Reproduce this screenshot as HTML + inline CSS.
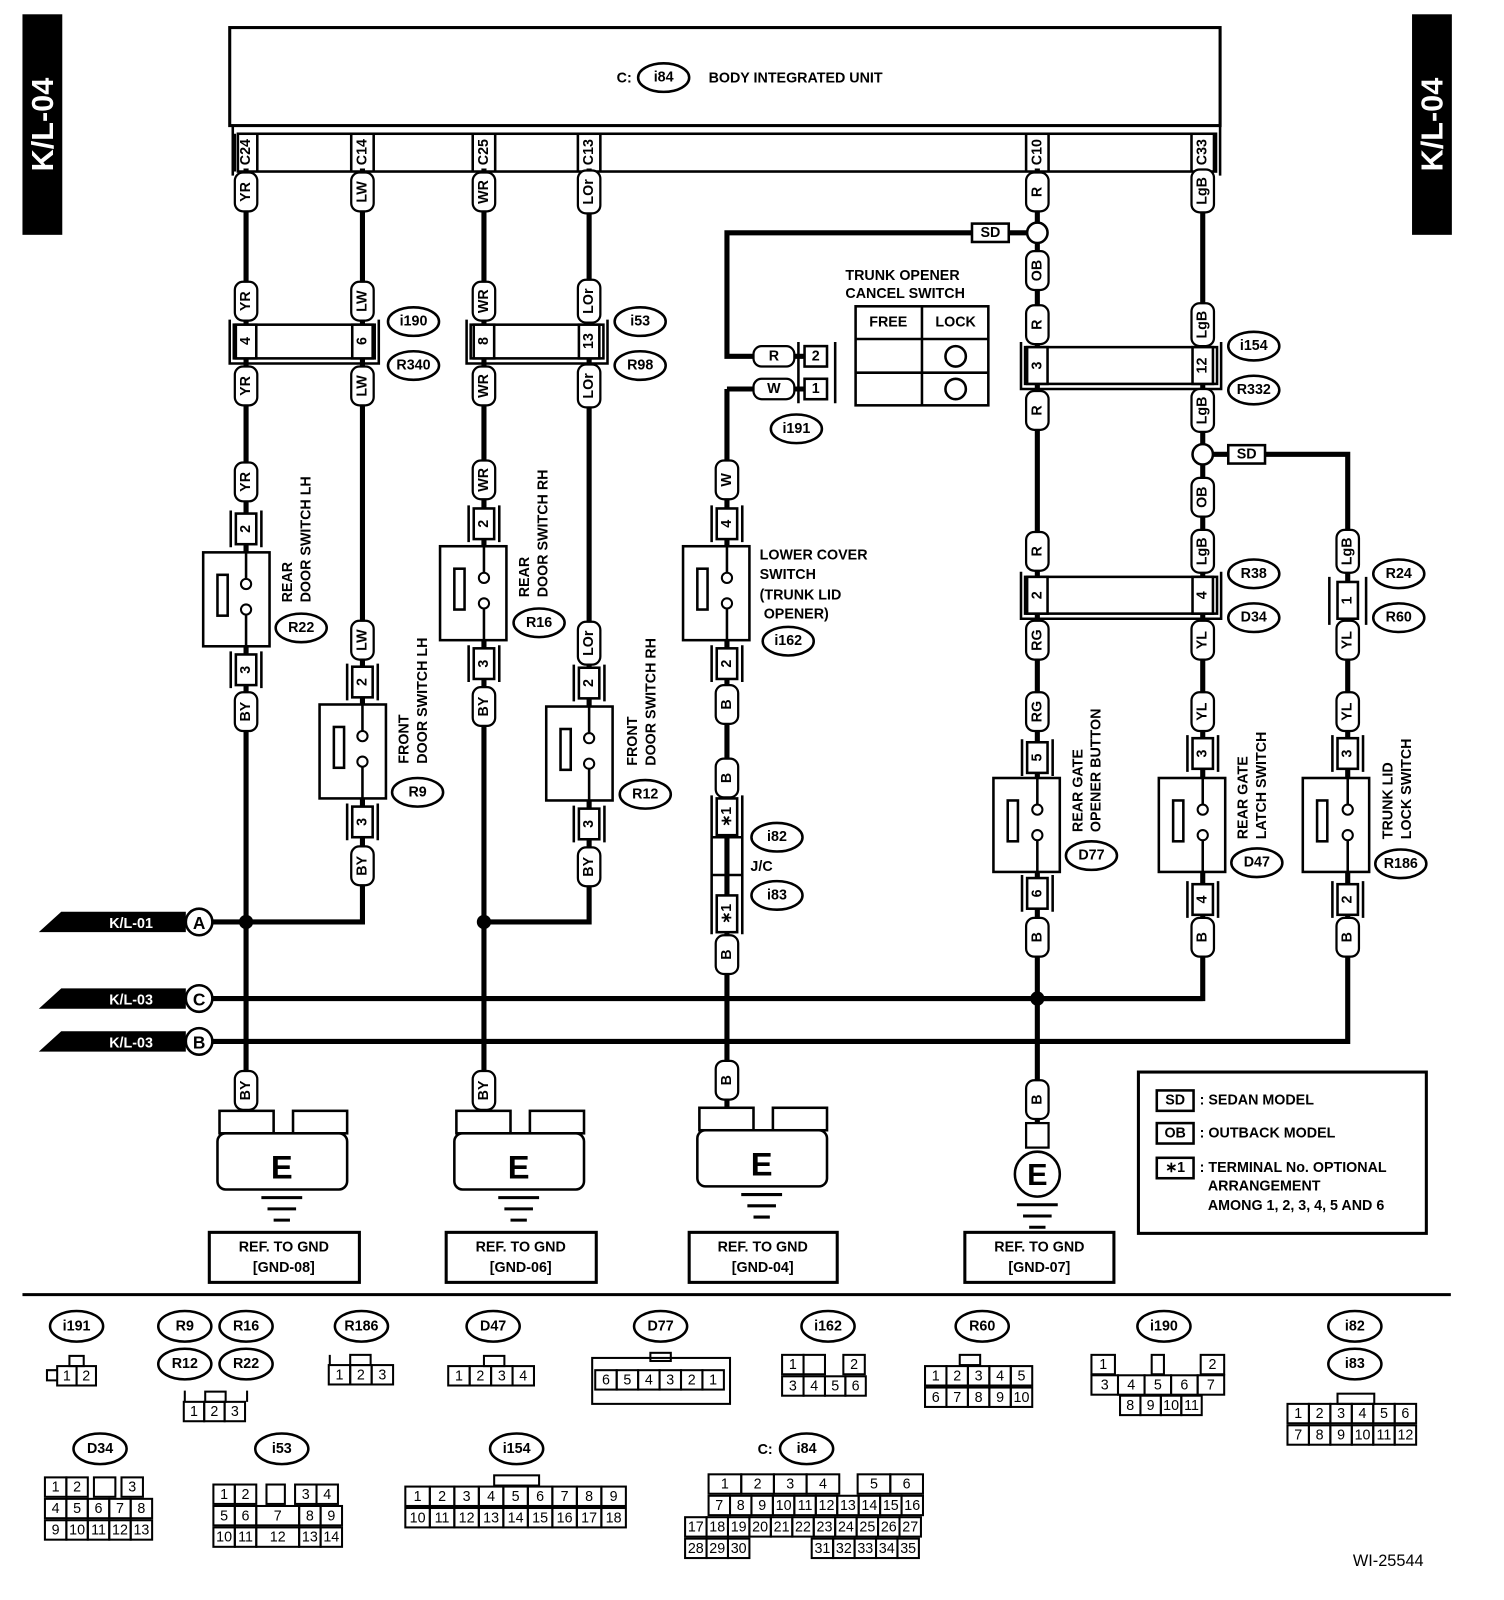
<!DOCTYPE html>
<html><head><meta charset="utf-8"><style>
body{margin:0;background:#fff}
#w{position:relative;width:1504px;height:1600px;overflow:hidden;font-family:"Liberation Sans",sans-serif}
#s{position:absolute;left:0;top:0;width:1504px;height:1600px;transform:scale(1.021);transform-origin:0 0}
svg{position:absolute;left:0;top:0}
.k{fill:none;stroke:#000;stroke-width:5}
.s{fill:#fff;stroke:#000;stroke-width:2.5}
.n{fill:none;stroke:#000;stroke-width:2.5}
text{font-family:"Liberation Sans",sans-serif;font-weight:bold;font-size:14px;fill:#000}
.c{text-anchor:middle;dominant-baseline:central}
.r{position:absolute;display:flex}
.r span{box-sizing:border-box;height:21px;border:2px solid #000;margin-left:-2px;text-align:center;font:14px/17px "Liberation Sans",sans-serif}
.r span.g{border-color:transparent}
</style></head><body><div id="w"><div id="s">
<svg width="1504" height="1600" viewBox="0 0 1504 1600">
<rect x="22" y="14" width="39" height="216" fill="#000"/>
<text class="c" transform="translate(42,122) rotate(-90)" style="fill:#fff;font-size:30px">K/L-04</text>
<rect x="1383" y="14" width="39" height="216" fill="#000"/>
<text class="c" transform="translate(1403,122) rotate(-90)" style="fill:#fff;font-size:30px">K/L-04</text>
<rect x="225" y="27" width="970" height="96" class="n" style="stroke-width:3"/>
<text x="604" y="81">C:</text><ellipse cx="650" cy="76" rx="25" ry="14" class="n"/><text class="c" x="650" y="76">i84</text>
<text x="694" y="81">BODY INTEGRATED UNIT</text>
<line x1="228" y1="123" x2="228" y2="172" class="n"/>
<rect x="233" y="131" width="958" height="37" class="s"/>

<g class="k">
<path d="M241 165V1088"/><path d="M355 165V903H241"/><path d="M474 165V1088"/><path d="M577 165V903H474"/>
<path d="M1016 228H712V349H790M712 381H790M712 381V1085"/>
<path d="M1016 165V1104"/><path d="M1178 165V978H1016"/>
<path d="M1178 445H1320V1020H190"/>
<path d="M190 978H1178"/><path d="M190 903H241"/>
</g>
<circle cx="241" cy="903" r="7"/><circle cx="474" cy="903" r="7"/><circle cx="1016" cy="978" r="7"/>
<circle cx="1016" cy="228" r="10" class="s"/><circle cx="1178" cy="445" r="10" class="s"/>

<g class="n"><line x1="252" y1="131" x2="252" y2="168"/><line x1="230" y1="131" x2="230" y2="168"/>
<line x1="344" y1="131" x2="344" y2="168"/><line x1="366" y1="131" x2="366" y2="168"/>
<line x1="463" y1="131" x2="463" y2="168"/><line x1="485" y1="131" x2="485" y2="168"/>
<line x1="566" y1="131" x2="566" y2="168"/><line x1="588" y1="131" x2="588" y2="168"/>
<line x1="1005" y1="131" x2="1005" y2="168"/><line x1="1027" y1="131" x2="1027" y2="168"/>
<line x1="1167" y1="131" x2="1167" y2="168"/><line x1="1189" y1="131" x2="1189" y2="168"/>
<line x1="1195" y1="123" x2="1195" y2="172"/></g>
<text class="c" transform="translate(241,149) rotate(-90)">C24</text>
<text class="c" transform="translate(355,149) rotate(-90)">C14</text>
<text class="c" transform="translate(474,149) rotate(-90)">C25</text>
<text class="c" transform="translate(577,149) rotate(-90)">C13</text>
<text class="c" transform="translate(1016,149) rotate(-90)">C10</text>
<text class="c" transform="translate(1178,149) rotate(-90)">C33</text>

<g class="n">
<rect x="229" y="318" width="138" height="33" fill="#fff"/><path d="M225 313V356H371V313"/>
<rect x="461" y="318" width="130" height="33" fill="#fff"/><path d="M457 313V356H595V313"/>
<rect x="1004" y="340" width="188" height="36" fill="#fff"/><path d="M1000 335V381H1196V335"/>
<rect x="1004" y="565" width="188" height="36" fill="#fff"/><path d="M1000 560V606H1196V560"/>
<path d="M1302 565V612M1338 565V612"/>
</g>

<g class="s">
<rect x="199" y="541" width="65" height="92"/><rect x="313" y="690" width="65" height="92"/>
<rect x="431" y="535" width="65" height="92"/><rect x="535" y="692" width="65" height="92"/>
<rect x="669" y="535" width="65" height="92"/>
<rect x="973" y="762" width="65" height="92"/><rect x="1135" y="762" width="65" height="92"/><rect x="1276" y="762" width="65" height="92"/>
</g>
<g class="n">
<path d="M241 541V572M241 596V633"/><rect x="213" y="563" width="10" height="40"/>
<path d="M355 690V721M355 745V782"/><rect x="327" y="712" width="10" height="40"/>
<path d="M474 535V566M474 590V627"/><rect x="445" y="557" width="10" height="40"/>
<path d="M577 692V723M577 747V784"/><rect x="549" y="714" width="10" height="40"/>
<path d="M712 535V566M712 590V627"/><rect x="683" y="557" width="10" height="40"/>
<path d="M1016 762V793M1016 817V854"/><rect x="987" y="784" width="10" height="40"/>
<path d="M1178 762V793M1178 817V854"/><rect x="1149" y="784" width="10" height="40"/>
<path d="M1320 762V793M1320 817V854"/><rect x="1290" y="784" width="10" height="40"/>
</g>
<g class="s" style="stroke-width:2">
<circle cx="241" cy="572" r="5"/><circle cx="241" cy="597" r="5"/>
<circle cx="355" cy="721" r="5"/><circle cx="355" cy="746" r="5"/>
<circle cx="474" cy="566" r="5"/><circle cx="474" cy="591" r="5"/>
<circle cx="577" cy="723" r="5"/><circle cx="577" cy="748" r="5"/>
<circle cx="712" cy="566" r="5"/><circle cx="712" cy="591" r="5"/>
<circle cx="1016" cy="793" r="5"/><circle cx="1016" cy="818" r="5"/>
<circle cx="1178" cy="793" r="5"/><circle cx="1178" cy="818" r="5"/>
<circle cx="1320" cy="793" r="5"/><circle cx="1320" cy="818" r="5"/>
</g>

<g class="s">
<rect x="231" y="318" width="20" height="33"/><rect x="345" y="318" width="20" height="33"/>
<rect x="464" y="318" width="20" height="33"/><rect x="567" y="318" width="20" height="33"/>
<rect x="1006" y="340" width="20" height="36"/><rect x="1168" y="340" width="20" height="36"/>
<rect x="1006" y="565" width="20" height="36"/><rect x="1168" y="565" width="20" height="36"/><rect x="1310" y="570" width="20" height="36"/>
<rect x="231" y="503" width="20" height="30"/><rect x="231" y="641" width="20" height="30"/>
<rect x="345" y="653" width="20" height="30"/><rect x="345" y="790" width="20" height="30"/>
<rect x="464" y="498" width="20" height="30"/><rect x="464" y="635" width="20" height="30"/>
<rect x="567" y="654" width="20" height="30"/><rect x="567" y="792" width="20" height="30"/>
<rect x="702" y="498" width="20" height="30"/><rect x="702" y="635" width="20" height="30"/>
<rect x="702" y="782" width="20" height="36"/><rect x="702" y="877" width="20" height="36"/>
<rect x="1006" y="727" width="20" height="30"/><rect x="1006" y="860" width="20" height="30"/>
<rect x="1168" y="723" width="20" height="30"/><rect x="1168" y="866" width="20" height="30"/>
<rect x="1310" y="723" width="20" height="30"/><rect x="1310" y="866" width="20" height="30"/>
<rect x="788" y="339" width="22" height="20"/><rect x="788" y="371" width="22" height="20"/>
</g>
<g class="n">
<path d="M226 500V536M256 500V536M226 638V674M256 638V674"/>
<path d="M340 650V686M370 650V686M340 787V823M370 787V823"/>
<path d="M459 495V531M489 495V531M459 632V668M489 632V668"/>
<path d="M562 651V687M592 651V687M562 789V825M592 789V825"/>
<path d="M697 495V531M727 495V531M697 632V668M727 632V668"/>
<path d="M697 779V915M727 779V915M697 820H727M697 857H727M712 820V857"/>
<path d="M1001 724V760M1031 724V760M1001 857V893M1031 857V893"/>
<path d="M1163 720V756M1193 720V756M1163 863V899M1193 863V899"/>
<path d="M1305 720V756M1335 720V756M1305 863V899M1335 863V899"/>
<path d="M782 335V395M818 335V395"/>
</g>
<text class="c" transform="translate(241,334) rotate(-90)">4</text>
<text class="c" transform="translate(355,334) rotate(-90)">6</text>
<text class="c" transform="translate(474,334) rotate(-90)">8</text>
<text class="c" transform="translate(577,334) rotate(-90)">13</text>
<text class="c" transform="translate(1016,358) rotate(-90)">3</text>
<text class="c" transform="translate(1178,358) rotate(-90)">12</text>
<text class="c" transform="translate(1016,583) rotate(-90)">2</text>
<text class="c" transform="translate(1178,583) rotate(-90)">4</text>
<text class="c" transform="translate(1320,588) rotate(-90)">1</text>
<text class="c" transform="translate(241,518) rotate(-90)">2</text><text class="c" transform="translate(241,656) rotate(-90)">3</text>
<text class="c" transform="translate(355,668) rotate(-90)">2</text><text class="c" transform="translate(355,805) rotate(-90)">3</text>
<text class="c" transform="translate(474,513) rotate(-90)">2</text><text class="c" transform="translate(474,650) rotate(-90)">3</text>
<text class="c" transform="translate(577,669) rotate(-90)">2</text><text class="c" transform="translate(577,807) rotate(-90)">3</text>
<text class="c" transform="translate(712,513) rotate(-90)">4</text><text class="c" transform="translate(712,650) rotate(-90)">2</text>
<text class="c" transform="translate(712,800) rotate(-90)">∗1</text><text class="c" transform="translate(712,895) rotate(-90)">∗1</text>
<text class="c" transform="translate(1016,742) rotate(-90)">5</text><text class="c" transform="translate(1016,875) rotate(-90)">6</text>
<text class="c" transform="translate(1178,738) rotate(-90)">3</text><text class="c" transform="translate(1178,881) rotate(-90)">4</text>
<text class="c" transform="translate(1320,738) rotate(-90)">3</text><text class="c" transform="translate(1320,881) rotate(-90)">2</text>
<text class="c" x="799" y="349">2</text><text class="c" x="799" y="381">1</text>

<g class="s" style="stroke-width:2.2">
<rect x="230" y="169" width="22" height="38" rx="8"/><rect x="230" y="276" width="22" height="38" rx="8"/><rect x="230" y="359" width="22" height="38" rx="8"/><rect x="230" y="453" width="22" height="38" rx="8"/><rect x="230" y="678" width="22" height="38" rx="8"/><rect x="230" y="1049" width="22" height="38" rx="8"/>
<rect x="344" y="169" width="22" height="38" rx="8"/><rect x="344" y="276" width="22" height="38" rx="8"/><rect x="344" y="359" width="22" height="38" rx="8"/><rect x="344" y="608" width="22" height="38" rx="8"/><rect x="344" y="829" width="22" height="38" rx="8"/>
<rect x="463" y="169" width="22" height="38" rx="8"/><rect x="463" y="276" width="22" height="38" rx="8"/><rect x="463" y="359" width="22" height="38" rx="8"/><rect x="463" y="451" width="22" height="38" rx="8"/><rect x="463" y="673" width="22" height="38" rx="8"/><rect x="463" y="1049" width="22" height="38" rx="8"/>
<rect x="566" y="167" width="22" height="42" rx="8"/><rect x="566" y="274" width="22" height="42" rx="8"/><rect x="566" y="357" width="22" height="42" rx="8"/><rect x="566" y="609" width="22" height="42" rx="8"/><rect x="566" y="830" width="22" height="38" rx="8"/>
<rect x="701" y="451" width="22" height="38" rx="8"/><rect x="701" y="671" width="22" height="38" rx="8"/><rect x="701" y="743" width="22" height="38" rx="8"/><rect x="701" y="916" width="22" height="38" rx="8"/><rect x="701" y="1039" width="22" height="38" rx="8"/>
<rect x="738" y="339" width="40" height="20" rx="8"/><rect x="738" y="371" width="40" height="20" rx="8"/>
<rect x="1005" y="169" width="22" height="38" rx="8"/><rect x="1005" y="246" width="22" height="38" rx="8"/><rect x="1005" y="299" width="22" height="38" rx="8"/><rect x="1005" y="383" width="22" height="38" rx="8"/><rect x="1005" y="521" width="22" height="38" rx="8"/><rect x="1005" y="608" width="22" height="38" rx="8"/><rect x="1005" y="678" width="22" height="38" rx="8"/><rect x="1005" y="899" width="22" height="38" rx="8"/><rect x="1005" y="1058" width="22" height="38" rx="8"/>
<rect x="1167" y="166" width="22" height="42" rx="8"/><rect x="1167" y="297" width="22" height="42" rx="8"/><rect x="1167" y="381" width="22" height="42" rx="8"/><rect x="1167" y="468" width="22" height="38" rx="8"/><rect x="1167" y="519" width="22" height="42" rx="8"/><rect x="1167" y="608" width="22" height="38" rx="8"/><rect x="1167" y="678" width="22" height="38" rx="8"/><rect x="1167" y="899" width="22" height="38" rx="8"/>
<rect x="1309" y="519" width="22" height="42" rx="8"/><rect x="1309" y="608" width="22" height="38" rx="8"/><rect x="1309" y="678" width="22" height="38" rx="8"/><rect x="1309" y="899" width="22" height="38" rx="8"/>
<rect x="1005" y="1100" width="22" height="24"/>
</g>
<g>
<text class="c" transform="translate(241,188) rotate(-90)">YR</text><text class="c" transform="translate(241,295) rotate(-90)">YR</text><text class="c" transform="translate(241,378) rotate(-90)">YR</text><text class="c" transform="translate(241,472) rotate(-90)">YR</text><text class="c" transform="translate(241,697) rotate(-90)">BY</text><text class="c" transform="translate(241,1068) rotate(-90)">BY</text>
<text class="c" transform="translate(355,188) rotate(-90)">LW</text><text class="c" transform="translate(355,295) rotate(-90)">LW</text><text class="c" transform="translate(355,378) rotate(-90)">LW</text><text class="c" transform="translate(355,627) rotate(-90)">LW</text><text class="c" transform="translate(355,848) rotate(-90)">BY</text>
<text class="c" transform="translate(474,188) rotate(-90)">WR</text><text class="c" transform="translate(474,295) rotate(-90)">WR</text><text class="c" transform="translate(474,378) rotate(-90)">WR</text><text class="c" transform="translate(474,470) rotate(-90)">WR</text><text class="c" transform="translate(474,692) rotate(-90)">BY</text><text class="c" transform="translate(474,1068) rotate(-90)">BY</text>
<text class="c" transform="translate(577,188) rotate(-90)">LOr</text><text class="c" transform="translate(577,295) rotate(-90)">LOr</text><text class="c" transform="translate(577,378) rotate(-90)">LOr</text><text class="c" transform="translate(577,630) rotate(-90)">LOr</text><text class="c" transform="translate(577,849) rotate(-90)">BY</text>
<text class="c" transform="translate(712,470) rotate(-90)">W</text><text class="c" transform="translate(712,690) rotate(-90)">B</text><text class="c" transform="translate(712,762) rotate(-90)">B</text><text class="c" transform="translate(712,935) rotate(-90)">B</text><text class="c" transform="translate(712,1058) rotate(-90)">B</text>
<text class="c" x="758" y="349">R</text><text class="c" x="758" y="381">W</text>
<text class="c" transform="translate(1016,188) rotate(-90)">R</text><text class="c" transform="translate(1016,265) rotate(-90)">OB</text><text class="c" transform="translate(1016,318) rotate(-90)">R</text><text class="c" transform="translate(1016,402) rotate(-90)">R</text><text class="c" transform="translate(1016,540) rotate(-90)">R</text><text class="c" transform="translate(1016,627) rotate(-90)">RG</text><text class="c" transform="translate(1016,697) rotate(-90)">RG</text><text class="c" transform="translate(1016,918) rotate(-90)">B</text><text class="c" transform="translate(1016,1077) rotate(-90)">B</text>
<text class="c" transform="translate(1178,187) rotate(-90)">LgB</text><text class="c" transform="translate(1178,318) rotate(-90)">LgB</text><text class="c" transform="translate(1178,402) rotate(-90)">LgB</text><text class="c" transform="translate(1178,487) rotate(-90)">OB</text><text class="c" transform="translate(1178,540) rotate(-90)">LgB</text><text class="c" transform="translate(1178,627) rotate(-90)">YL</text><text class="c" transform="translate(1178,697) rotate(-90)">YL</text><text class="c" transform="translate(1178,918) rotate(-90)">B</text>
<text class="c" transform="translate(1320,540) rotate(-90)">LgB</text><text class="c" transform="translate(1320,627) rotate(-90)">YL</text><text class="c" transform="translate(1320,697) rotate(-90)">YL</text><text class="c" transform="translate(1320,918) rotate(-90)">B</text>
</g>
<rect x="952" y="219" width="36" height="18" class="s"/><text class="c" x="970" y="228">SD</text>
<rect x="1203" y="436" width="36" height="18" class="s"/><text class="c" x="1221" y="445">SD</text>

<text x="828" y="274">TRUNK OPENER</text><text x="828" y="292">CANCEL SWITCH</text>
<rect x="838" y="300" width="130" height="97" class="n"/>
<path d="M903 300V397M838 332H968M838 365H968" class="n"/>
<text class="c" x="870" y="316">FREE</text><text class="c" x="936" y="316">LOCK</text>
<circle cx="936" cy="349" r="10" class="s"/><circle cx="936" cy="381" r="10" class="s"/>

<g class="n">
<ellipse cx="405" cy="315" rx="25" ry="14"/><ellipse cx="405" cy="358" rx="25" ry="14"/>
<ellipse cx="627" cy="315" rx="25" ry="14"/><ellipse cx="627" cy="358" rx="25" ry="14"/>
<ellipse cx="780" cy="420" rx="25" ry="14"/>
<ellipse cx="1228" cy="339" rx="25" ry="14"/><ellipse cx="1228" cy="382" rx="25" ry="14"/>
<ellipse cx="1228" cy="562" rx="25" ry="14"/><ellipse cx="1228" cy="605" rx="25" ry="14"/>
<ellipse cx="1370" cy="562" rx="25" ry="14"/><ellipse cx="1370" cy="605" rx="25" ry="14"/>
<ellipse cx="295" cy="615" rx="25" ry="14"/><ellipse cx="409" cy="776" rx="25" ry="14"/>
<ellipse cx="528" cy="610" rx="25" ry="14"/><ellipse cx="632" cy="778" rx="25" ry="14"/>
<ellipse cx="772" cy="628" rx="25" ry="14"/>
<ellipse cx="761" cy="820" rx="25" ry="14"/><ellipse cx="761" cy="877" rx="25" ry="14"/>
<ellipse cx="1069" cy="838" rx="25" ry="14"/><ellipse cx="1231" cy="845" rx="25" ry="14"/><ellipse cx="1372" cy="846" rx="25" ry="14"/>
</g>
<text class="c" x="405" y="315">i190</text><text class="c" x="405" y="358">R340</text>
<text class="c" x="627" y="315">i53</text><text class="c" x="627" y="358">R98</text>
<text class="c" x="780" y="420">i191</text>
<text class="c" x="1228" y="339">i154</text><text class="c" x="1228" y="382">R332</text>
<text class="c" x="1228" y="562">R38</text><text class="c" x="1228" y="605">D34</text>
<text class="c" x="1370" y="562">R24</text><text class="c" x="1370" y="605">R60</text>
<text class="c" x="295" y="615">R22</text><text class="c" x="409" y="776">R9</text>
<text class="c" x="528" y="610">R16</text><text class="c" x="632" y="778">R12</text>
<text class="c" x="772" y="628">i162</text>
<text class="c" x="761" y="820">i82</text><text class="c" x="761" y="877">i83</text><text x="735" y="853">J/C</text>
<text class="c" x="1069" y="838">D77</text><text class="c" x="1231" y="845">D47</text><text class="c" x="1372" y="846">R186</text>

<text transform="translate(286,590) rotate(-90)">REAR</text><text transform="translate(304,590) rotate(-90)">DOOR SWITCH LH</text>
<text transform="translate(400,748) rotate(-90)">FRONT</text><text transform="translate(418,748) rotate(-90)">DOOR SWITCH LH</text>
<text transform="translate(518,585) rotate(-90)">REAR</text><text transform="translate(536,585) rotate(-90)">DOOR SWITCH RH</text>
<text transform="translate(624,750) rotate(-90)">FRONT</text><text transform="translate(642,750) rotate(-90)">DOOR SWITCH RH</text>
<text x="744" y="548">LOWER COVER</text><text x="744" y="567">SWITCH</text><text x="744" y="587">(TRUNK LID</text><text x="748" y="606">OPENER)</text>
<text transform="translate(1060,815) rotate(-90)">REAR GATE</text><text transform="translate(1078,815) rotate(-90)">OPENER BUTTON</text>
<text transform="translate(1222,822) rotate(-90)">REAR GATE</text><text transform="translate(1240,822) rotate(-90)">LATCH SWITCH</text>
<text transform="translate(1364,822) rotate(-90)">TRUNK LID</text><text transform="translate(1382,822) rotate(-90)">LOCK SWITCH</text>

<path d="M38 913L60 893H182V913Z"/><text x="107" y="909" style="fill:#fff">K/L-01</text>
<circle cx="195" cy="903" r="13" class="s"/><text class="c" x="195" y="904" style="font-size:17px">A</text>
<path d="M38 988L60 968H182V988Z"/><text x="107" y="984" style="fill:#fff">K/L-03</text>
<circle cx="195" cy="978" r="13" class="s"/><text class="c" x="195" y="979" style="font-size:17px">C</text>
<path d="M38 1030L60 1010H182V1030Z"/><text x="107" y="1026" style="fill:#fff">K/L-03</text>
<circle cx="195" cy="1020" r="13" class="s"/><text class="c" x="195" y="1021" style="font-size:17px">B</text>

<g class="s">
<rect x="215" y="1088" width="53" height="22"/><rect x="287" y="1088" width="53" height="22"/><rect x="213" y="1110" width="127" height="55" rx="8"/>
<rect x="447" y="1088" width="53" height="22"/><rect x="519" y="1088" width="53" height="22"/><rect x="445" y="1110" width="127" height="55" rx="8"/>
<rect x="685" y="1085" width="53" height="22"/><rect x="757" y="1085" width="53" height="22"/><rect x="683" y="1107" width="127" height="55" rx="8"/>
<circle cx="1016" cy="1150" r="22"/>
</g>
<text class="c" x="276" y="1143" style="font-size:32px">E</text><text class="c" x="508" y="1143" style="font-size:32px">E</text><text class="c" x="746" y="1140" style="font-size:32px">E</text><text class="c" x="1016" y="1151" style="font-size:30px">E</text>
<g style="stroke:#000;stroke-width:3">
<line x1="256" y1="1173" x2="296" y2="1173"/><line x1="262" y1="1184" x2="290" y2="1184"/><line x1="268" y1="1195" x2="284" y2="1195"/>
<line x1="488" y1="1173" x2="528" y2="1173"/><line x1="494" y1="1184" x2="522" y2="1184"/><line x1="500" y1="1195" x2="516" y2="1195"/>
<line x1="726" y1="1170" x2="766" y2="1170"/><line x1="732" y1="1181" x2="760" y2="1181"/><line x1="738" y1="1192" x2="754" y2="1192"/>
<line x1="996" y1="1180" x2="1036" y2="1180"/><line x1="1002" y1="1191" x2="1030" y2="1191"/><line x1="1008" y1="1202" x2="1024" y2="1202"/>
</g>
<g class="n" style="stroke-width:3">
<rect x="205" y="1207" width="147" height="49"/><rect x="437" y="1207" width="147" height="49"/>
<rect x="675" y="1207" width="145" height="49"/><rect x="945" y="1207" width="146" height="49"/>
</g>
<text class="c" x="278" y="1222">REF. TO GND</text><text class="c" x="278" y="1242">[GND-08]</text>
<text class="c" x="510" y="1222">REF. TO GND</text><text class="c" x="510" y="1242">[GND-06]</text>
<text class="c" x="747" y="1222">REF. TO GND</text><text class="c" x="747" y="1242">[GND-04]</text>
<text class="c" x="1018" y="1222">REF. TO GND</text><text class="c" x="1018" y="1242">[GND-07]</text>

<rect x="1115" y="1050" width="282" height="158" class="n" style="stroke-width:3"/>
<rect x="1133" y="1068" width="36" height="20" class="n"/><text class="c" x="1151" y="1078">SD</text><text x="1175" y="1082">: SEDAN MODEL</text>
<rect x="1133" y="1100" width="36" height="20" class="n"/><text class="c" x="1151" y="1110">OB</text><text x="1175" y="1114">: OUTBACK MODEL</text>
<rect x="1133" y="1134" width="36" height="20" class="n"/><text class="c" x="1151" y="1144">∗1</text><text x="1175" y="1148">: TERMINAL No. OPTIONAL</text>
<text x="1183" y="1166">ARRANGEMENT</text><text x="1183" y="1185">AMONG 1, 2, 3, 4, 5 AND 6</text>

<line x1="22" y1="1268" x2="1421" y2="1268" style="stroke:#000;stroke-width:3"/>

<g class="n">
<ellipse cx="75" cy="1299" rx="26" ry="15"/><ellipse cx="181" cy="1299" rx="26" ry="15"/><ellipse cx="241" cy="1299" rx="26" ry="15"/>
<ellipse cx="181" cy="1336" rx="26" ry="15"/><ellipse cx="241" cy="1336" rx="26" ry="15"/><ellipse cx="354" cy="1299" rx="26" ry="15"/>
<ellipse cx="483" cy="1299" rx="26" ry="15"/><ellipse cx="647" cy="1299" rx="26" ry="15"/><ellipse cx="811" cy="1299" rx="26" ry="15"/>
<ellipse cx="962" cy="1299" rx="26" ry="15"/><ellipse cx="1140" cy="1299" rx="26" ry="15"/><ellipse cx="1327" cy="1299" rx="26" ry="15"/>
<ellipse cx="1327" cy="1336" rx="26" ry="15"/><ellipse cx="98" cy="1419" rx="26" ry="15"/><ellipse cx="276" cy="1419" rx="26" ry="15"/>
<ellipse cx="506" cy="1419" rx="26" ry="15"/><ellipse cx="790" cy="1419" rx="26" ry="15"/>
</g>
<text class="c" x="75" y="1299">i191</text><text class="c" x="181" y="1299">R9</text><text class="c" x="241" y="1299">R16</text>
<text class="c" x="181" y="1336">R12</text><text class="c" x="241" y="1336">R22</text><text class="c" x="354" y="1299">R186</text>
<text class="c" x="483" y="1299">D47</text><text class="c" x="647" y="1299">D77</text><text class="c" x="811" y="1299">i162</text>
<text class="c" x="962" y="1299">R60</text><text class="c" x="1140" y="1299">i190</text><text class="c" x="1327" y="1299">i82</text>
<text class="c" x="1327" y="1336">i83</text><text class="c" x="98" y="1419">D34</text><text class="c" x="276" y="1419">i53</text>
<text class="c" x="506" y="1419">i154</text><text x="742" y="1424">C:</text><text class="c" x="790" y="1419">i84</text>
<g class="n" style="stroke-width:2">
<rect x="68" y="1328" width="14" height="10"/><path d="M56 1342H46V1352H56"/>
<rect x="201" y="1363" width="20" height="10"/><path d="M181 1373V1362M242 1373V1362"/>
<rect x="343" y="1327" width="20" height="10"/><path d="M323 1337V1327"/>
<rect x="474" y="1328" width="20" height="10"/>
<rect x="580" y="1330" width="135" height="45"/><rect x="637" y="1325" width="20" height="8"/>
<rect x="940" y="1327" width="20" height="10"/>
<rect x="1310" y="1365" width="36" height="10"/>
<rect x="484" y="1445" width="44" height="10"/>
</g>
<text x="1325" y="1534" style="font-weight:normal;font-size:16px">WI-25544</text>
</svg>

<div class="r" style="left:57px;top:1337px"><span style="width:21px">1</span><span style="width:21px">2</span></div>
<div class="r" style="left:181px;top:1372px"><span style="width:22px">1</span><span style="width:22px">2</span><span style="width:22px">3</span></div>
<div class="r" style="left:323px;top:1336px"><span style="width:23px">1</span><span style="width:23px">2</span><span style="width:23px">3</span></div>
<div class="r" style="left:440px;top:1337px"><span style="width:23px">1</span><span style="width:23px">2</span><span style="width:23px">3</span><span style="width:23px">4</span></div>
<div class="r" style="left:584px;top:1341px"><span style="width:23px">6</span><span style="width:23px">5</span><span style="width:23px">4</span><span style="width:23px">3</span><span style="width:23px">2</span><span style="width:23px">1</span></div>
<div class="r" style="left:767px;top:1326px"><span style="width:23px">1</span><span style="width:23px"></span><span class="g" style="width:20px"></span><span style="width:23px">2</span></div>
<div class="r" style="left:767px;top:1347px"><span style="width:23px">3</span><span style="width:23px">4</span><span style="width:22px">5</span><span style="width:22px">6</span></div>
<div class="r" style="left:907px;top:1337px"><span style="width:23px">1</span><span style="width:23px">2</span><span style="width:23px">3</span><span style="width:23px">4</span><span style="width:23px">5</span></div>
<div class="r" style="left:907px;top:1358px"><span style="width:23px">6</span><span style="width:23px">7</span><span style="width:23px">8</span><span style="width:23px">9</span><span style="width:23px">10</span></div>
<div class="r" style="left:1070px;top:1326px"><span style="width:25px">1</span><span class="g" style="width:38px"></span><span style="width:14px"></span><span class="g" style="width:38px"></span><span style="width:25px">2</span></div>
<div class="r" style="left:1070px;top:1346px"><span style="width:28px">3</span><span style="width:28px">4</span><span style="width:28px">5</span><span style="width:28px">6</span><span style="width:28px">7</span></div>
<div class="r" style="left:1098px;top:1366px"><span style="width:22px">8</span><span style="width:22px">9</span><span style="width:22px">10</span><span style="width:22px">11</span></div>
<div class="r" style="left:1262px;top:1374px"><span style="width:23px">1</span><span style="width:23px">2</span><span style="width:23px">3</span><span style="width:23px">4</span><span style="width:23px">5</span><span style="width:23px">6</span></div>
<div class="r" style="left:1262px;top:1395px"><span style="width:23px">7</span><span style="width:23px">8</span><span style="width:23px">9</span><span style="width:23px">10</span><span style="width:23px">11</span><span style="width:23px">12</span></div>
<div class="r" style="left:45px;top:1446px"><span style="width:23px">1</span><span style="width:23px">2</span><span class="g" style="width:8px"></span><span style="width:23px"></span><span class="g" style="width:8px"></span><span style="width:23px">3</span></div>
<div class="r" style="left:45px;top:1467px"><span style="width:23px">4</span><span style="width:23px">5</span><span style="width:23px">6</span><span style="width:23px">7</span><span style="width:23px">8</span></div>
<div class="r" style="left:45px;top:1488px"><span style="width:23px">9</span><span style="width:23px">10</span><span style="width:23px">11</span><span style="width:23px">12</span><span style="width:23px">13</span></div>
<div class="r" style="left:210px;top:1453px"><span style="width:23px">1</span><span style="width:23px">2</span><span class="g" style="width:12px"></span><span style="width:20px"></span><span class="g" style="width:12px"></span><span style="width:23px">3</span><span style="width:23px">4</span></div>
<div class="r" style="left:210px;top:1474px"><span style="width:23px">5</span><span style="width:23px">6</span><span style="width:44px">7</span><span style="width:23px">8</span><span style="width:23px">9</span></div>
<div class="r" style="left:210px;top:1495px"><span style="width:23px">10</span><span style="width:23px">11</span><span style="width:44px">12</span><span style="width:23px">13</span><span style="width:23px">14</span></div>
<div class="r" style="left:398px;top:1455px"><span style="width:26px">1</span><span style="width:26px">2</span><span style="width:26px">3</span><span style="width:26px">4</span><span style="width:26px">5</span><span style="width:26px">6</span><span style="width:26px">7</span><span style="width:26px">8</span><span style="width:26px">9</span></div>
<div class="r" style="left:398px;top:1476px"><span style="width:26px">10</span><span style="width:26px">11</span><span style="width:26px">12</span><span style="width:26px">13</span><span style="width:26px">14</span><span style="width:26px">15</span><span style="width:26px">16</span><span style="width:26px">17</span><span style="width:26px">18</span></div>
<div class="r" style="left:695px;top:1443px"><span style="width:34px">1</span><span style="width:34px">2</span><span style="width:34px">3</span><span style="width:34px">4</span><span class="g" style="width:20px"></span><span style="width:34px">5</span><span style="width:34px">6</span></div>
<div class="r" style="left:695px;top:1464px"><span style="width:23px">7</span><span style="width:23px">8</span><span style="width:23px">9</span><span style="width:23px">10</span><span style="width:23px">11</span><span style="width:23px">12</span><span style="width:23px">13</span><span style="width:23px">14</span><span style="width:23px">15</span><span style="width:23px">16</span></div>
<div class="r" style="left:672px;top:1485px"><span style="width:23px">17</span><span style="width:23px">18</span><span style="width:23px">19</span><span style="width:23px">20</span><span style="width:23px">21</span><span style="width:23px">22</span><span style="width:23px">23</span><span style="width:23px">24</span><span style="width:23px">25</span><span style="width:23px">26</span><span style="width:23px">27</span></div>
<div class="r" style="left:672px;top:1506px"><span style="width:23px">28</span><span style="width:23px">29</span><span style="width:23px">30</span><span class="g" style="width:63px"></span><span style="width:23px">31</span><span style="width:23px">32</span><span style="width:23px">33</span><span style="width:23px">34</span><span style="width:23px">35</span></div>
</div></div></body></html>
